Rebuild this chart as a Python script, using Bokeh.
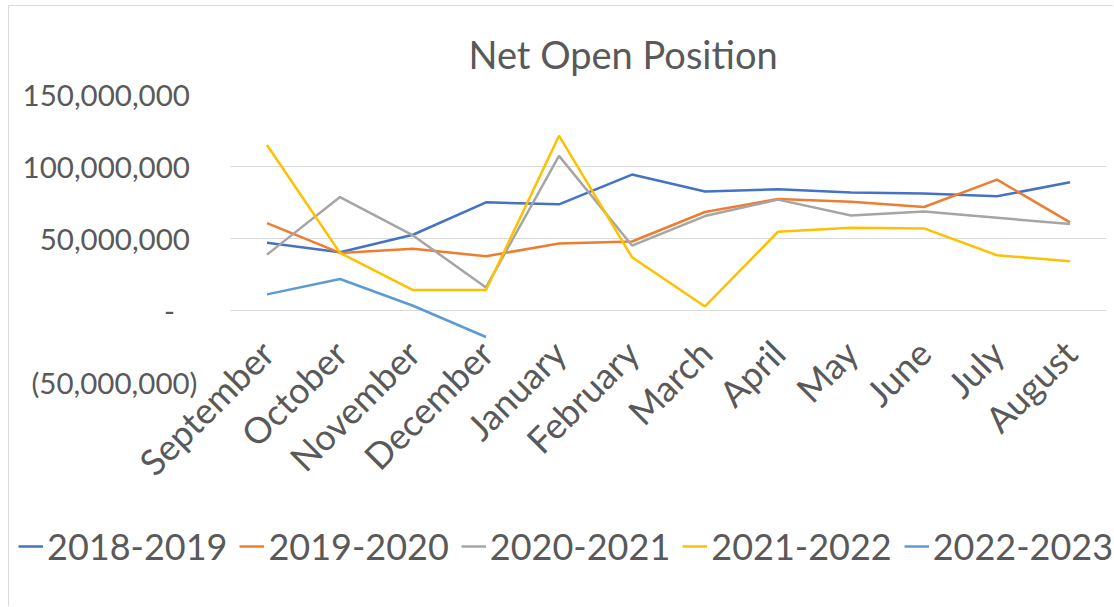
import math
from bokeh.plotting import figure
from bokeh.models import FactorRange, Range1d, FixedTicker, CustomJSTickFormatter, Legend, LegendItem
from bokeh.embed import file_html
from bokeh.resources import INLINE

months = ["September", "October", "November", "December", "January", "February",
          "March", "April", "May", "June", "July", "August"]

y2018_2019 = [47.0e6, 40.5e6, 52.6e6, 75.1e6, 73.7e6, 94.4e6, 82.6e6, 84.2e6, 81.9e6, 81.2e6, 79.3e6, 89.1e6]
y2019_2020 = [60.7e6, 40.0e6, 42.8e6, 37.7e6, 46.5e6, 47.9e6, 68.4e6, 77.4e6, 75.6e6, 71.9e6, 90.9e6, 61.2e6]
y2020_2021 = [38.8e6, 78.8e6, 52.1e6, 16.0e6, 107.4e6, 45.1e6, 65.6e6, 77.0e6, 66.0e6, 68.8e6, 64.4e6, 60.0e6]
y2021_2022 = [114.9e6, 40.0e6, 14.2e6, 14.2e6, 121.4e6, 37.0e6, 2.8e6, 54.7e6, 57.4e6, 57.0e6, 38.4e6, 34.2e6]
y2022_2023 = [11.2e6, 21.9e6, 3.3e6, -18.4e6]

series = [
    ("2018-2019", y2018_2019, "#4472C4"),
    ("2019-2020", y2019_2020, "#ED7D31"),
    ("2020-2021", y2020_2021, "#A5A5A5"),
    ("2021-2022", y2021_2022, "#FFC000"),
    ("2022-2023", y2022_2023, "#5B9BD5"),
]
y_ticks = [-50e6, 0, 50e6, 100e6, 150e6]

FONT = "Lato"
TXT = "#595959"

p = figure(x_range=FactorRange(factors=months, range_padding=0),
           y_range=Range1d(-50e6, 150e6),
           width=1105, height=500,
           min_border_left=221, min_border_right=8,
           min_border_top=88, min_border_bottom=124,
           output_backend="svg", toolbar_location=None,
           title="Net Open Position")
p.margin = (5, 0, 0, 8)
p.styles = {"border-left": "1px solid #D9D9D9", "border-top": "1px solid #D9D9D9"}

p.outline_line_color = None
p.background_fill_color = "white"
p.border_fill_color = "white"

p.title.align = "left"
p.title.offset = 238
p.title.standoff = 36
p.title.text_font = FONT
p.title.text_font_size = "38px"
p.title.text_font_style = "normal"
p.title.text_color = TXT

p.xgrid.visible = False
p.ygrid.grid_line_color = "#D9D9D9"
p.ygrid.grid_line_width = 1

p.yaxis.ticker = FixedTicker(ticks=y_ticks, minor_ticks=[])
p.yaxis.formatter = CustomJSTickFormatter(code="""
if (tick == 0) { return "-\\u00a0\\u00a0\\u00a0"; }
var s = Math.abs(tick).toLocaleString('en-US', {maximumFractionDigits: 0});
return tick < 0 ? "(" + s + ")" : s + "\\u00a0";
""")
for ax in (p.xaxis, p.yaxis):
    ax.axis_line_color = None
    ax.major_tick_line_color = None
    ax.minor_tick_line_color = None
    ax.major_tick_out = 0
    ax.major_tick_in = 0
    ax.major_label_text_font = FONT
    ax.major_label_text_color = TXT
p.yaxis.major_label_text_font_size = "29.5px"
p.yaxis.major_label_standoff = 33
p.xaxis.major_label_text_font_size = "36px"
p.xaxis.major_label_orientation = math.pi / 4
p.xaxis.major_label_standoff = -36

for name, vals, color in series:
    p.line(months[:len(vals)], vals, line_color=color, line_width=2.5)

# legend strip below the chart (its series are kept out of view; only the key shows)
lg = figure(width=1105, height=101,
            x_range=FactorRange(factors=months, range_padding=0),
            y_range=Range1d(1e9, 2e9),
            x_axis_location=None, y_axis_location=None,
            min_border_left=0, min_border_right=0, min_border_top=0, min_border_bottom=0,
            output_backend="svg", toolbar_location=None)
lg.margin = (0, 0, 0, 8)
lg.styles = {"border-left": "1px solid #D9D9D9"}
lg.grid.visible = False
lg.outline_line_color = None
lg.border_fill_color = "white"
items = []
for name, vals, color in series:
    r = lg.line(months[:len(vals)], vals, line_color=color, line_width=2.5)
    items.append(LegendItem(label=name, renderers=[r]))
legend = Legend(items=items, orientation="horizontal", location=(9, 38))
legend.border_line_color = None
legend.background_fill_alpha = 0
legend.padding = 0
legend.margin = 0
legend.spacing = 12
legend.glyph_width = 25
legend.glyph_height = 36
legend.label_standoff = 4
legend.label_text_font = FONT
legend.label_text_font_size = "36px"
legend.label_text_color = TXT
lg.add_layout(legend, "center")

open("out.html", "w").write(file_html([p, lg], INLINE))
